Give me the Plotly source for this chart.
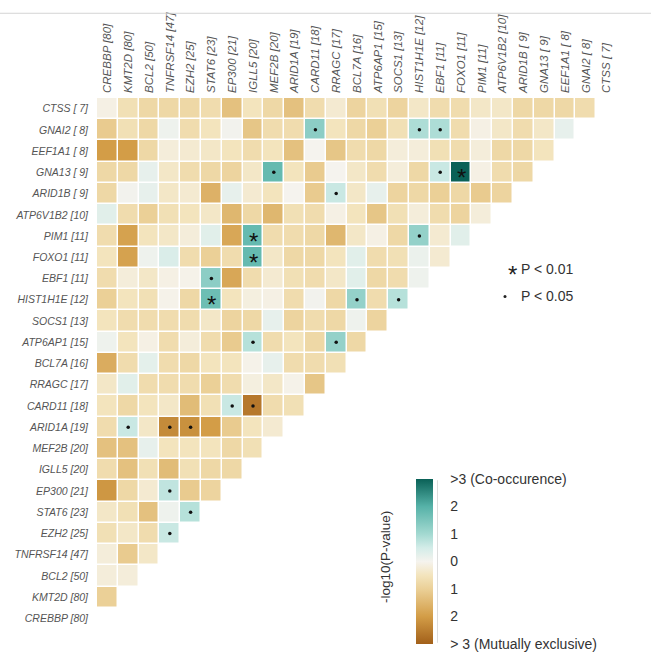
import plotly.graph_objects as go

# ---------------- data ----------------
genes = ["CTSS", "GNAI2", "EEF1A1", "GNA13", "ARID1B", "ATP6V1B2", "PIM1", "FOXO1",
         "EBF1", "HIST1H1E", "SOCS1", "ATP6AP1", "BCL7A", "RRAGC", "CARD11", "ARID1A",
         "MEF2B", "IGLL5", "EP300", "STAT6", "EZH2", "TNFRSF14", "BCL2", "KMT2D", "CREBBP"]
counts = [7, 8, 8, 9, 9, 10, 11, 11, 11, 12, 13, 15, 16, 17, 18, 19, 20, 20, 21, 23, 25, 47, 50, 80, 80]

# signed -log10(P): positive = co-occurrence, negative = mutual exclusivity
# each row lists values for columns CREBBP, KMT2D, BCL2, ... (column order = reversed rows)
ctss = [-0.1, -0.6, -0.8, -0.8, -0.8, -0.7, -1.3, -0.5, -0.8, -1.3, -0.7, -0.3, -0.9, -0.6, -0.9, -0.4, -0.7, -0.7, -0.4, -0.4, -0.8, -0.8, -0.8, -0.7]
gnai2 = [-1.1, -0.6, -0.8, 0.1, -0.7, -0.5, 0.05, -1.2, -0.7, -0.7, 1.3, -0.5, -0.8, -1.0, -0.6, 0.9, 0.9, -0.7, -0.1, -0.4, -0.7, -0.4, 0.2]
eef1a1 = [-2.0, -2.0, -0.8, -0.2, -0.3, -0.4, -0.5, -0.7, -0.5, -1.3, 0.0, -1.2, -0.7, -0.8, -0.2, -0.2, -0.6, -0.7, -0.2, -0.8, -0.8, -0.5]
gna13 = [-0.8, -0.8, 0.2, -0.4, -0.7, -0.8, -0.9, -0.4, 1.8, -0.5, -1.1, 0.0, -0.4, -0.7, -0.2, -0.8, 0.6, 3.0, -0.1, -0.7, -0.8]
arid1b = [-0.8, 0.05, 0.2, -0.4, -0.3, -1.6, 0.2, -0.3, -0.5, 0.0, -1.1, 0.6, -0.4, 0.2, -0.9, -0.8, -1.0, -0.8, -1.1, -0.9]
atp6v1b2 = [0.3, -0.7, -1.0, -0.6, -0.5, -0.4, -1.5, -0.8, -1.5, -0.6, -0.7, -0.1, -0.5, -1.2, -0.6, -0.2, -0.7, -0.9, -0.2]
pim1 = [-0.7, -1.9, -0.5, -0.4, -0.2, 0.3, -1.8, 1.8, -0.7, -0.7, -0.8, -1.5, -0.4, -0.1, -0.8, 1.2, -0.3, 0.3]
foxo1 = [-0.5, -1.9, 0.1, 0.4, -0.7, -1.0, -0.7, 1.8, -0.4, -0.8, -0.8, -0.5, 0.3, -0.7, -0.6, 0.15, -0.3]
ebf1 = [-0.7, -0.2, -0.4, -0.1, -0.05, 1.3, -1.8, -0.7, -0.3, -0.6, -0.7, -0.4, 0.3, -0.8, -0.7, 0.1]
hist1h1e = [-1.0, -0.5, -0.6, -0.05, -0.8, 1.7, -0.5, -0.15, -0.1, -0.7, 0.05, -0.8, 1.2, -0.7, 0.8]
socs1 = [-0.5, -0.7, -0.7, -0.7, -0.7, -0.4, -0.9, -0.8, 0.2, -0.9, -0.7, -0.8, 0.1, -0.9]
atp6ap1 = [0.1, -0.5, -0.1, -0.7, -0.2, -0.7, -1.1, 0.8, -0.7, -0.5, -0.8, 1.2, -0.8]
bcl7a = [-1.7, -0.7, 0.25, -0.7, -0.8, -0.5, -0.5, -0.05, 0.2, -0.7, -0.7, -0.6]
rragc = [-0.4, 0.3, -0.7, -0.7, -0.7, -1.0, -0.7, -0.15, -0.4, -0.05, -1.2]
card11 = [-0.5, -0.8, -0.5, -0.4, -1.4, -0.6, 0.6, -2.6, -0.7, -0.6]
arid1a = [-0.7, 0.6, -0.4, -2.3, -2.2, -2.0, -1.1, -0.5, -0.3]
mef2b = [-1.3, -1.3, 0.2, -0.5, -0.5, -0.5, -0.8, -0.6]
igll5 = [-0.7, -1.3, -0.6, -1.4, -0.6, -0.8, -0.8]
ep300 = [-2.1, -0.8, -0.3, 0.7, -1.1, -0.9]
stat6 = [-0.4, -0.6, -1.3, 0.1, 0.8]
ezh2 = [-0.6, -0.4, -0.7, 0.6]
tnfrsf14 = [-0.2, -1.1, -0.4]
bcl2 = [-0.2, -0.2]
kmt2d = [-1.0]
crebbp = []

rows_vals = [ctss, gnai2, eef1a1, gna13, arid1b, atp6v1b2, pim1, foxo1, ebf1, hist1h1e,
             socs1, atp6ap1, bcl7a, rragc, card11, arid1a, mef2b, igll5, ep300, stat6,
             ezh2, tnfrsf14, bcl2, kmt2d, crebbp]

sig_p01 = [("GNA13", "FOXO1"), ("PIM1", "IGLL5"), ("FOXO1", "IGLL5"), ("HIST1H1E", "STAT6")]
sig_p05 = [("GNAI2", "CARD11"), ("GNAI2", "HIST1H1E"), ("GNAI2", "EBF1"), ("GNA13", "MEF2B"),
           ("GNA13", "EBF1"), ("ARID1B", "RRAGC"), ("PIM1", "HIST1H1E"), ("EBF1", "STAT6"),
           ("HIST1H1E", "BCL7A"), ("HIST1H1E", "SOCS1"), ("ATP6AP1", "IGLL5"), ("ATP6AP1", "RRAGC"),
           ("CARD11", "EP300"), ("CARD11", "IGLL5"), ("ARID1A", "KMT2D"), ("ARID1A", "TNFRSF14"),
           ("ARID1A", "EZH2"), ("EP300", "TNFRSF14"), ("STAT6", "EZH2"), ("EZH2", "TNFRSF14")]

cbar_vals = [-3, -2, -1, 0, 1, 2, 3]
cbar_text = ["> 3 (Mutually exclusive)", "2", "1", "0", "1", "2", ">3 (Co-occurence)"]

# ---------------- build ----------------
n = len(genes)
row_labels = [f"{g} [{c:2d}]" for g, c in zip(genes, counts)]
col_genes = genes[::-1]
col_labels = row_labels[::-1]

z = []
for vals in rows_vals:
    z.append([vals[j] if j < len(vals) else None for j in range(n)])

colorscale = [
    [0.00, "#a2601a"],
    [1/6, "#d39d47"],
    [2/6, "#ebd097"],
    [2.5/6, "#f3e4bd"],
    [3/6, "#f5f3ee"],
    [3.5/6, "#d3ece8"],
    [4/6, "#a3d9d1"],
    [5/6, "#56b2a8"],
    [1.00, "#0a6157"],
]

L, R, T, B = 97, 34, 90, 29
W, H = 651, 658
PW, PH = W - L - R, H - T - B


def px(x):
    return (x - L) / PW


def py(y):
    return (H - B - y) / PH


fig = go.Figure()
fig.add_trace(go.Heatmap(
    z=z, x=list(range(n)), y=list(range(n)),
    zmin=-3, zmax=3, colorscale=colorscale,
    xgap=1.5, ygap=1.5, hoverongaps=False,
    colorbar=dict(
        x=px(416), xanchor="left", y=py(560.5), yanchor="middle",
        len=165, lenmode="pixels", thickness=17, thicknessmode="pixels",
        xpad=0, ypad=0, outlinewidth=0,
        tickvals=cbar_vals, ticktext=cbar_text,
        ticks="outside", ticklen=15, tickcolor="rgba(0,0,0,0)",
        tickfont=dict(size=14, color="#333333", family="Liberation Sans"),
    ),
))

gi = {g: i for i, g in enumerate(genes)}
ci = {g: j for j, g in enumerate(col_genes)}

fig.add_trace(go.Scatter(
    x=[ci[c] for r, c in sig_p05], y=[gi[r] for r, c in sig_p05],
    mode="markers", marker=dict(size=3.5, color="#111111"),
    showlegend=False, hoverinfo="skip",
))

for r, c in sig_p01:
    fig.add_annotation(x=ci[c], y=gi[r], text="*", showarrow=False,
                       xanchor="center", yanchor="middle",
                       font=dict(size=24, color="#111111", family="Liberation Sans"),
                       yshift=-5)

# significance legend
fig.add_annotation(xref="paper", yref="paper", x=px(512.5), y=py(264), text="*",
                   xanchor="center", yanchor="middle", showarrow=False,
                   font=dict(size=24, color="#222222", family="Liberation Sans"),
                   yshift=-5)
fig.add_annotation(xref="paper", yref="paper", x=px(519), y=py(264), xanchor="left",
                   yanchor="middle", text="P &lt; 0.01", showarrow=False,
                   font=dict(size=14, color="#333333", family="Liberation Sans"))
fig.add_trace(go.Scatter(
    x=[px(505)], y=[py(291.5)], xaxis="x2", yaxis="y2", mode="markers",
    marker=dict(size=3, color="#222222"), showlegend=False, hoverinfo="skip",
))
fig.add_annotation(xref="paper", yref="paper", x=px(519), y=py(291), xanchor="left",
                   yanchor="middle", text="P &lt; 0.05", showarrow=False,
                   font=dict(size=14, color="#333333", family="Liberation Sans"))

# colorbar title
fig.add_annotation(xref="paper", yref="paper", x=px(385), y=py(556), text="-log10(P-value)",
                   xanchor="center", yanchor="middle", textangle=-90, showarrow=False,
                   font=dict(size=13.5, color="#333333", family="Liberation Sans"))

# thin guide line beside the colour bar
fig.add_shape(type="line", xref="paper", yref="paper", x0=px(437.5), x1=px(437.5),
              y0=py(478), y1=py(643), line=dict(color="#dddddd", width=1))

fig.add_shape(type="line", xref="paper", yref="paper", x0=px(0), x1=px(651),
              y0=py(4), y1=py(4), line=dict(color="#d5d5d5", width=1))

fig.update_layout(
    width=W, height=H,
    margin=dict(l=L, r=R, t=T, b=B, pad=0),
    paper_bgcolor="white", plot_bgcolor="rgba(0,0,0,0)",
    xaxis=dict(
        side="top", tickmode="array", tickvals=list(range(n)), ticktext=col_labels,
        tickangle=-90, range=[-0.5, n - 0.5], showgrid=False, zeroline=False,
        showline=False, ticks="", ticklen=0, ticklabelstandoff=4,
        tickfont=dict(size=11.5, color="#555555", family="Liberation Sans", style="italic"),
    ),
    yaxis=dict(
        tickmode="array", tickvals=list(range(n)), ticktext=row_labels,
        range=[n - 0.5, -0.5], showgrid=False, zeroline=False, showline=False,
        ticks="", ticklen=0, ticklabelstandoff=8,
        tickfont=dict(size=10.5, color="#555555", family="Liberation Sans", style="italic"),
    ),
    xaxis2=dict(domain=[0, 1], range=[0, 1], overlaying="x", visible=False, fixedrange=True),
    yaxis2=dict(domain=[0, 1], range=[0, 1], overlaying="y", visible=False, fixedrange=True),
    showlegend=False,
)

fig.write_html("out.html")
